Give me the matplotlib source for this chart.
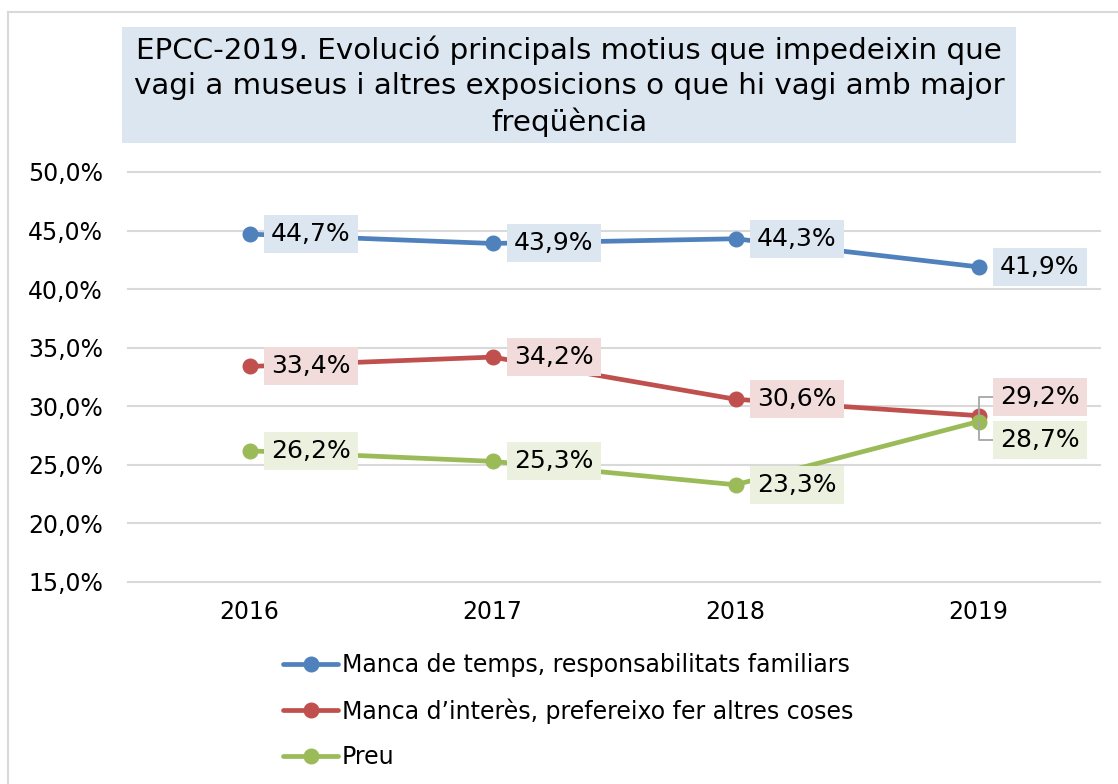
import matplotlib
matplotlib.use("Agg")
import matplotlib.pyplot as plt
from matplotlib.lines import Line2D
from matplotlib.patches import Rectangle

plt.rcParams['font.family'] = ['DejaVu Sans']

years = ["2016", "2017", "2018", "2019"]
temps = [44.7, 43.9, 44.3, 41.9]
interes = [33.4, 34.2, 30.6, 29.2]
preu = [26.2, 25.3, 23.3, 28.7]
series_names = ["Manca de temps, responsabilitats familiars",
                "Manca d\u2019interès, prefereixo fer altres coses",
                "Preu"]
yticks = [15, 20, 25, 30, 35, 40, 45, 50]
title = ("EPCC-2019. Evolució principals motius que impedeixin que\n"
         "vagi a museus i altres exposicions o que hi vagi amb major\n"
         "freqüència")

colors = ["#4f81bd", "#c0504d", "#9bbb59"]
label_bg = ["#dce6f1", "#f2dcdb", "#ebf1de"]

W, H = 1118, 784
fig = plt.figure(figsize=(W / 100, H / 100), dpi=100)
ax = fig.add_axes([128 / W, 1 - 582 / H, (1100 - 128) / W, (582 - 172) / H])

x = list(range(len(years)))
all_series = [temps, interes, preu]
for vals, c, name in zip(all_series, colors, series_names):
    ax.plot(x, vals, color=c, lw=3.4, marker='o', markersize=10.5,
            solid_capstyle='round', label=name, zorder=3)

fs = 17
lfs = 18
def fmt(v):
    return f"{v:.1f}".replace('.', ',') + "%"

for si, (vals, bg) in enumerate(zip(all_series, label_bg)):
    for i, v in enumerate(vals):
        dy = 0
        arrow = None
        if i == 3 and si == 1:
            dy = 13.7
        elif i == 3 and si == 2:
            dy = -13.3
        if dy != 0:
            arrow = dict(arrowstyle='-', color='#a6a6a6', lw=1.3,
                         connectionstyle='angle,angleA=0,angleB=90,rad=0',
                         relpos=(0, 0.5), shrinkA=0, shrinkB=0)
        ax.annotate(fmt(v), xy=(i, v), xytext=(15.6, dy), textcoords='offset points',
                    ha='left', va='center', fontsize=lfs, color='black',
                    bbox=dict(boxstyle='square,pad=0.28', fc=bg, ec='none'),
                    arrowprops=arrow, zorder=5)

ax.set_xlim(-0.5, 3.5)
ax.set_ylim(15, 50)
ax.set_yticks(yticks)
ax.set_yticklabels([f"{t:.1f}".replace('.', ',') + "%" for t in yticks], fontsize=fs)
ax.set_xticks(x)
ax.set_xticklabels(years, fontsize=fs)
ax.tick_params(axis='y', length=0, pad=18)
ax.tick_params(axis='x', length=0, pad=13)
ax.grid(axis='y', color='#d9d9d9', lw=1.5)
for gl in ax.get_ygridlines():
    gl.set_clip_on(False)
ax.set_axisbelow(True)
for s in ax.spines.values():
    s.set_visible(False)

fig.add_artist(Rectangle((122 / W, 1 - 143 / H), (1016 - 122) / W, (143 - 27) / H,
                         transform=fig.transFigure, fc='#dce6f1', ec='none', zorder=0))
fig.text(569 / W, 1 - 86.5 / H, title, ha='center', va='center', fontsize=21.2,
         multialignment='center', linespacing=1.31)

leg = fig.legend(loc='center left', bbox_to_anchor=(283 / W, 1 - 711 / H),
                 frameon=False, fontsize=fs, handlelength=2.35, handletextpad=0.15,
                 labelspacing=0.89, borderpad=0, borderaxespad=0)

fig.add_artist(Line2D([8 / W, 8 / W], [0, 1 - 12 / H], color='#d9d9d9', lw=1.5))
fig.add_artist(Line2D([8 / W, 1], [1 - 12 / H, 1 - 12 / H], color='#d9d9d9', lw=1.5))

fig.savefig("out.png", dpi=100)
